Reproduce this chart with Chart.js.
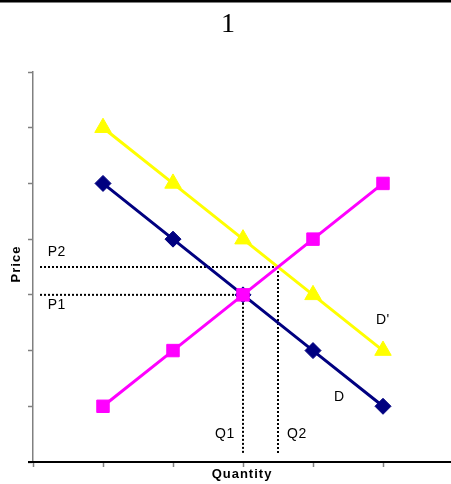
<!DOCTYPE html>
<html>
<head>
<meta charset="utf-8">
<style>
  html, body { margin: 0; padding: 0; background: #fff; overflow: hidden; }
  canvas { display: block; }
</style>
<script src="https://cdn.jsdelivr.net/npm/chart.js@4/dist/chart.umd.min.js"></script>
</head>
<body>
<canvas id="c" width="453" height="484"></canvas>
<script>
// Supply and demand: quantity on x, price on y
const quantities = [1, 2, 3, 4, 5];
const supply = [1, 2, 3, 4, 5];
const demand = [5, 4, 3, 2, 1];
const demandShifted = [6, 5, 4, 3, 2];

// Equilibrium before (P1, Q1) and after (P2, Q2) the demand shift
const P1 = 3, Q1 = 3;
const P2 = 3.5, Q2 = 3.5;
const guideStart = 0.1;   // dotted guides begin just right of the price axis
const guideFloor = 0.15;  // and stop just above the quantity axis

const priceRange = [0, 7];
const quantityRange = [0, 6];

const chartTitle = '1';
const xTitle = 'Quantity';
const yTitle = 'Price';

// Text annotations, placed in data coordinates
const annotations = [
  { text: 'P2', x: 0.21, y: 3.76 },
  { text: 'P1', x: 0.21, y: 2.81 },
  { text: 'Q1', x: 2.6, y: 0.5 },
  { text: 'Q2', x: 3.63, y: 0.5 },
  { text: "D'", x: 4.9, y: 2.55 },
  { text: 'D', x: 4.3, y: 1.17 }
];

const toPoints = ys => quantities.map((q, i) => ({ x: q, y: ys[i] }));

const guide = (pts) => ({
  data: pts,
  showLine: true,
  borderColor: '#000',
  borderWidth: 2,
  borderDash: [2, 2],
  pointRadius: 0,
  fill: false,
  order: 10
});

const SANS = '"Liberation Sans", Arial, sans-serif';

const decorations = {
  id: 'decorations',
  beforeDraw(chart) {
    const ctx = chart.ctx;
    ctx.save();
    ctx.fillStyle = '#fff';
    ctx.fillRect(0, 0, chart.width, chart.height);
    ctx.restore();
  },
  afterDraw(chart) {
    const ctx = chart.ctx;
    const { left, right, bottom } = chart.chartArea;
    const xs = chart.scales.x, ys = chart.scales.y;
    ctx.save();

    // rule across the top
    ctx.fillStyle = '#000';
    ctx.fillRect(0, 0, chart.width, 2.5);

    // quantity axis line
    ctx.strokeStyle = '#000';
    ctx.lineWidth = 2;
    ctx.beginPath();
    ctx.moveTo(left - 5, bottom);
    ctx.lineTo(right, bottom);
    ctx.stroke();

    // title
    ctx.fillStyle = '#000';
    ctx.font = '28px "Liberation Serif", "Times New Roman", serif';
    ctx.textAlign = 'center';
    ctx.textBaseline = 'alphabetic';
    ctx.fillText(chartTitle, 228, 32);

    // axis titles
    ctx.font = 'bold 13px ' + SANS;
    ctx.letterSpacing = '1px';
    ctx.textBaseline = 'middle';
    ctx.fillText(xTitle, (left + right) / 2 - 1, 474);
    ctx.save();
    ctx.translate(16, 264);
    ctx.rotate(-Math.PI / 2);
    ctx.fillText(yTitle, 0, 0);
    ctx.restore();

    // annotations
    ctx.font = '14px ' + SANS;
    ctx.letterSpacing = '0.5px';
    ctx.textAlign = 'left';
    annotations.forEach(a => {
      ctx.fillText(a.text, xs.getPixelForValue(a.x), ys.getPixelForValue(a.y));
    });
    ctx.restore();
  }
};

new Chart(document.getElementById('c'), {
  type: 'scatter',
  data: {
    datasets: [
      {
        label: 'S',
        data: toPoints(supply),
        showLine: true,
        borderColor: '#FF00FF',
        backgroundColor: '#FF00FF',
        borderWidth: 3,
        pointStyle: 'rect',
        pointRadius: 8.8,
        pointBorderWidth: 1,
        pointBorderColor: '#FF00FF',
        order: 1
      },
      {
        label: 'D',
        data: toPoints(demand),
        showLine: true,
        borderColor: '#000080',
        backgroundColor: '#000080',
        borderWidth: 3,
        pointStyle: 'rectRot',
        pointRadius: 8,
        pointBorderWidth: 1,
        pointBorderColor: '#000080',
        order: 2
      },
      {
        label: "D'",
        data: toPoints(demandShifted),
        showLine: true,
        borderColor: '#FFFF00',
        backgroundColor: '#FFFF00',
        borderWidth: 3,
        pointStyle: 'triangle',
        pointRadius: 9.5,
        pointBorderWidth: 1,
        pointBorderColor: '#FFFF00',
        order: 3
      },
      guide([{ x: guideStart, y: P1 }, { x: Q1, y: P1 }]),
      guide([{ x: Q1, y: P1 }, { x: Q1, y: guideFloor }]),
      guide([{ x: guideStart, y: P2 }, { x: Q2, y: P2 }]),
      guide([{ x: Q2, y: P2 }, { x: Q2, y: guideFloor }])
    ]
  },
  options: {
    responsive: false,
    animation: false,
    devicePixelRatio: 1,
    layout: { padding: { top: 72, left: 0, right: 0, bottom: 0 }, autoPadding: false },
    plugins: { legend: { display: false }, tooltip: { enabled: false }, title: { display: false } },
    elements: { line: { tension: 0 } },
    scales: {
      x: {
        type: 'linear',
        min: quantityRange[0],
        max: quantityRange[1],
        ticks: { display: false, stepSize: 1 },
        grid: { display: true, drawOnChartArea: false, drawTicks: true, tickLength: 5, tickColor: '#808080', tickWidth: 1.5 },
        border: { display: false },
        afterFit(s) { s.height = 22; }
      },
      y: {
        type: 'linear',
        min: priceRange[0],
        max: priceRange[1],
        ticks: { display: false, stepSize: 1 },
        grid: { display: true, drawOnChartArea: false, drawTicks: true, tickLength: 5, tickColor: '#808080', tickWidth: 1.5 },
        border: { display: true, color: '#808080', width: 1.5 },
        afterFit(s) { s.width = 33; }
      }
    }
  },
  plugins: [decorations]
});
</script>
</body>
</html>
